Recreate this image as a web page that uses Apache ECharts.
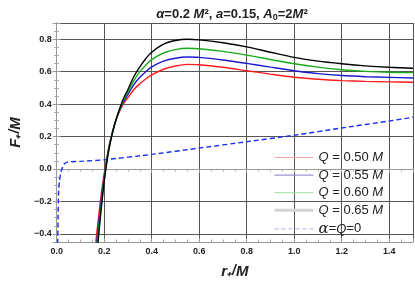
<!DOCTYPE html>
<html>
<head>
<meta charset="utf-8">
<script src="https://cdn.jsdelivr.net/npm/echarts@6/dist/echarts.min.js"></script>
<style>html,body{margin:0;padding:0;background:#fff}#c{width:415px;height:284px}</style>
</head>
<body>
<div id="c"></div>
<script>
const rVals = [0.16,0.17,0.18,0.19,0.2,0.21,0.22,0.23,0.245,0.26,0.28,0.3,0.325,0.35,0.375,0.4,0.45,0.5,0.55,0.6,0.7,0.8,0.9,1.0,1.1,1.2,1.3,1.4,1.5];
const fQ050 = [-0.52,-0.38,-0.25,-0.13,-0.03,0.06,0.14,0.2,0.28,0.34,0.40,0.44,0.49,0.525,0.555,0.58,0.615,0.635,0.645,0.643,0.627,0.606,0.585,0.566,0.553,0.545,0.54,0.537,0.535];
const fQ055 = [-0.58,-0.43,-0.29,-0.16,-0.05,0.05,0.13,0.2,0.28,0.345,0.41,0.46,0.52,0.565,0.6,0.63,0.665,0.683,0.69,0.688,0.672,0.651,0.628,0.606,0.588,0.576,0.569,0.565,0.561];
const fQ060 = [-0.64,-0.47,-0.32,-0.19,-0.065,0.04,0.125,0.195,0.28,0.345,0.42,0.475,0.545,0.6,0.64,0.674,0.715,0.736,0.744,0.741,0.725,0.702,0.675,0.649,0.628,0.612,0.602,0.596,0.594];
const fQ065 = [-0.7,-0.52,-0.36,-0.21,-0.08,0.03,0.12,0.19,0.28,0.35,0.43,0.49,0.57,0.63,0.68,0.72,0.77,0.792,0.80,0.796,0.778,0.753,0.72,0.688,0.665,0.649,0.636,0.627,0.621];
const rZero = [0.004,0.006,0.008,0.012,0.018,0.022,0.027,0.033,0.045,0.06,0.1,0.2,0.4,0.6,0.8,1.0,1.2,1.4,1.5];
const fZero = [-0.46,-0.3,-0.15,-0.07,-0.02,0.0,0.02,0.033,0.042,0.045,0.047,0.057,0.09,0.129,0.168,0.208,0.253,0.296,0.319];
const xTicks = {min:0, max:1.5, step:0.2};
const yTicks = {min:-0.45, max:0.9};

const names = ['Q = 0.50 M','Q = 0.55 M','Q = 0.60 M','Q = 0.65 M','α=Q=0'];
const labelsRich = ['{i|Q} = 0.50 {i|M}','{i|Q} = 0.55 {i|M}','{i|Q} = 0.60 {i|M}','{i|Q} = 0.65 {i|M}','{a|α}={i|Q}=0'];

function pairs(xs, ys){ return xs.map((x,i)=>[x, ys[i]]); }
const fmt = v => (Math.round(v*10)/10).toFixed(1).replace('-', '\u2212');
const font = 'Liberation Sans, Arial, sans-serif';
const labelStyle = {fontSize:9, fontWeight:'bold', color:'#222', fontFamily:font};
const noSym = {color:'rgba(0,0,0,0)', borderWidth:0, opacity:0};

const chart = echarts.init(document.getElementById('c'), null, {renderer:'canvas'});
const curveSeries = (name, ys, color) => ({
  name, type:'line', data:pairs(rVals, ys), showSymbol:false, symbol:'none',
  smooth:0.3, lineStyle:{color, width:1.4}, itemStyle:{color}, clip:true, z:3
});
const gridLine = {show:true, lineStyle:{color:'#555', width:1}};
chart.setOption({
  animation:false,
  backgroundColor:'#fff',
  title:{
    text:'{i|α}=0.2 {i|M}², {i|a}=0.15, {i|A}{s|0}=2{i|M}²',
    left:227, top:2, textAlign:'center',
    textStyle:{fontSize:13, fontWeight:'bold', color:'#222', fontFamily:font,
      rich:{i:{fontSize:13, fontWeight:'bold', fontStyle:'italic', color:'#222', fontFamily:font},
            s:{fontSize:9, fontWeight:'bold', color:'#222', fontFamily:font, padding:[6,0,0,0]}}}
  },
  grid:{left:42, right:2, top:23, bottom:32, show:false},
  legend:{
    show:true, type:'plain', orient:'vertical', left:268, top:146, itemWidth:39, itemHeight:14, itemGap:4.6,
    selectedMode:false,
    formatter:n=>labelsRich[names.indexOf(n)],
    textStyle:{fontSize:13, color:'#222', fontFamily:font,
      rich:{i:{fontSize:13, fontStyle:'italic', color:'#222', fontFamily:font},
            a:{fontSize:15, fontStyle:'italic', color:'#222', fontFamily:'DejaVu Serif, serif'}}},
    data:[
      {name:names[0], itemStyle:noSym, lineStyle:{color:'#f6a8a8', width:1}},
      {name:names[1], itemStyle:noSym, lineStyle:{color:'#8080c8', width:1}},
      {name:names[2], itemStyle:noSym, lineStyle:{color:'#9ce09c', width:1}},
      {name:names[3], itemStyle:noSym, lineStyle:{color:'#d4d4d4', width:3}},
      {name:names[4], itemStyle:noSym, lineStyle:{color:'#b0b0f0', width:1, type:[4,3]}}
    ]
  },
  xAxis:[{
    type:'value', min:xTicks.min, max:xTicks.max, interval:xTicks.step,
    name:'{n|r}₊/{n|M}', nameLocation:'middle', nameGap:22,
    nameTextStyle:{fontSize:14, fontWeight:'bold', fontStyle:'italic', color:'#222', fontFamily:font,
      rich:{n:{fontSize:15, fontWeight:'bold', fontStyle:'italic', color:'#222', fontFamily:font}}},
    axisLine:{show:true, onZero:false, lineStyle:{color:'#999', width:1}},
    axisTick:{show:true, inside:true, length:4, lineStyle:{color:'#999'}},
    minorTick:{show:true, splitNumber:4, length:2.5, lineStyle:{color:'#aaa'}},
    axisLabel:Object.assign({formatter:fmt, margin:5, showMaxLabel:false}, labelStyle),
    splitLine:gridLine
  },{
    type:'value', position:'top', min:xTicks.min, max:xTicks.max, interval:xTicks.step,
    axisLine:{show:true, lineStyle:{color:'#999', width:1}},
    axisTick:{show:true, inside:true, length:4, lineStyle:{color:'#999'}},
    minorTick:{show:true, splitNumber:4, length:2.5, lineStyle:{color:'#aaa'}},
    axisLabel:{show:false}, splitLine:{show:false}
  }],
  yAxis:[{
    type:'value', min:yTicks.min, max:yTicks.max, splitNumber:7,
    name:'{n|F}₊/{n|M}', nameLocation:'middle', nameGap:27, nameRotate:90,
    nameTextStyle:{fontSize:14, fontWeight:'bold', fontStyle:'italic', color:'#222', fontFamily:font,
      rich:{n:{fontSize:15, fontWeight:'bold', fontStyle:'italic', color:'#222', fontFamily:font}}},
    axisLine:{show:true, onZero:false, lineStyle:{color:'#999', width:1}},
    axisTick:{show:true, inside:true, length:4, lineStyle:{color:'#999'}},
    minorTick:{show:true, splitNumber:4, length:2.5, lineStyle:{color:'#aaa'}},
    axisLabel:Object.assign({formatter:fmt, margin:5, showMinLabel:false, showMaxLabel:false}, labelStyle),
    splitLine:gridLine
  },{
    type:'value', position:'right', min:yTicks.min, max:yTicks.max, splitNumber:7,
    axisLine:{show:true, lineStyle:{color:'#999', width:1}},
    axisTick:{show:true, inside:true, length:4, lineStyle:{color:'#999'}},
    minorTick:{show:true, splitNumber:4, length:2.5, lineStyle:{color:'#aaa'}},
    axisLabel:{show:false}, splitLine:{show:false}
  }],
  series:[
    curveSeries(names[0], fQ050, '#ff1a1a'),
    curveSeries(names[1], fQ055, '#1a1acc'),
    curveSeries(names[2], fQ060, '#1aaa1a'),
    curveSeries(names[3], fQ065, '#000000'),
    {name:names[4], type:'line', data:pairs(rZero, fZero), showSymbol:false, symbol:'none',
     smooth:0.2, lineStyle:{color:'#1a2ef0', width:1.4, type:[5,3]}, itemStyle:{color:'#1a2ef0'}, clip:true, z:2}
  ]
});
</script>
</body>
</html>
